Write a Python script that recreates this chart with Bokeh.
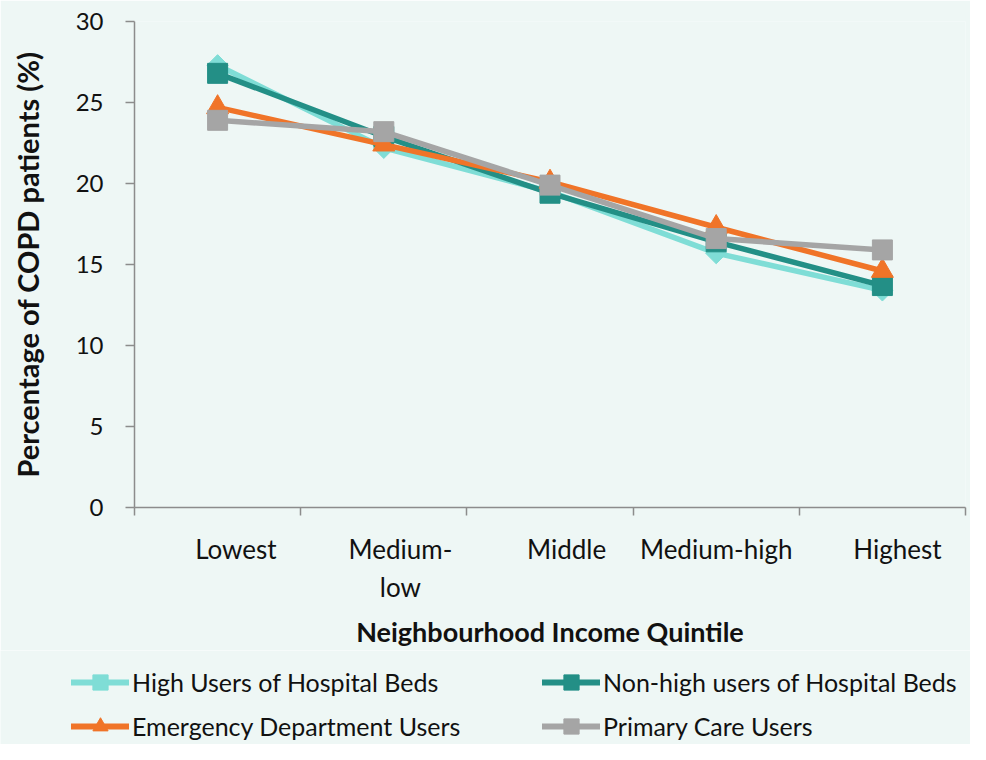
from bokeh.plotting import figure
from bokeh.models import FixedTicker, Legend, LegendItem, Range1d
from bokeh.layouts import column
from bokeh.embed import file_html
from bokeh.resources import INLINE
import math

categories = ["Lowest", "Medium-low", "Middle", "Medium-high", "Highest"]
category_labels = ["Lowest", "Medium-\nlow", "Middle", "Medium-high", "Highest"]
series_names = ["High Users of Hospital Beds", "Non-high users of Hospital Beds",
                "Emergency Department Users", "Primary Care Users"]
high_users_beds = [27.3, 22.2, 19.5, 15.7, 13.4]
nonhigh_users_beds = [26.8, 22.9, 19.4, 16.4, 13.7]
ed_users = [24.7, 22.4, 20.1, 17.3, 14.6]
primary_care_users = [23.9, 23.2, 19.9, 16.6, 15.9]
y_ticks = [0, 5, 10, 15, 20, 25, 30]

# horizontal nudge of each category label (in category widths), as in the original
label_nudge = [0.11, 0.1, 0.1, 0.0, 0.09]

BG = "#EEF7F5"
FONT = "Lato"
AXC = "#8C8C8C"
TXT = "#111111"

W = 970
H_MAIN = 650
H_LEG = 94

x = list(range(1, len(categories) + 1))
label_pos = [xi + d for xi, d in zip(x, label_nudge)]

p = figure(width=W, height=H_MAIN, x_range=(0.5, len(categories) + 0.5), y_range=(0, 30),
           output_backend="svg", toolbar_location=None,
           min_border_left=134, min_border_right=5, min_border_top=21,
           min_border_bottom=H_MAIN - 513)
p.frame_align = False
p.background_fill_color = BG
p.border_fill_color = BG
p.outline_line_color = None
p.xgrid.visible = False
p.ygrid.visible = False

for ax in (p.xaxis[0], p.yaxis[0]):
    ax.axis_line_color = AXC
    ax.axis_line_width = 1.5
    ax.major_label_text_font = FONT
    ax.major_label_text_color = TXT
    ax.axis_label_text_font = FONT
    ax.axis_label_text_font_style = "bold"
    ax.axis_label_text_color = TXT

p.xaxis.ticker = FixedTicker(ticks=label_pos,
                             minor_ticks=[i + 0.5 for i in range(len(categories) + 1)])
p.xaxis.major_label_overrides = {pos: lab for pos, lab in zip(label_pos, category_labels)}
p.xaxis.major_label_text_font_size = "26px"
p.xaxis.major_tick_out = 0
p.xaxis.major_tick_in = 0
p.xaxis.minor_tick_out = 8
p.xaxis.minor_tick_in = 0
p.xaxis.minor_tick_line_color = AXC
p.xaxis.minor_tick_line_width = 1.5
p.xaxis.major_label_standoff = 17
p.xaxis.axis_label = "Neighbourhood Income Quintile"
p.xaxis.axis_label_text_font_size = "27px"
p.xaxis.axis_label_standoff = 9

p.yaxis.ticker = FixedTicker(ticks=y_ticks, minor_ticks=[])
p.yaxis.major_label_text_font_size = "24px"
p.yaxis.major_tick_out = 9
p.yaxis.major_tick_in = 0
p.yaxis.major_tick_line_color = AXC
p.yaxis.major_tick_line_width = 1.5
p.yaxis.major_label_standoff = 22
p.yaxis.axis_label = "Percentage of COPD patients (%)"
p.yaxis.axis_label_text_font_size = "29px"
p.yaxis.axis_label_standoff = 28

series = [
    (high_users_beds, "#7FDDD6", "square", 15, math.pi / 4),
    (nonhigh_users_beds, "#238F86", "square", 20, 0),
    (ed_users, "#F07428", "triangle", 22, 0),
    (primary_care_users, "#A5A5A5", "square", 20, 0),
]

# legend strip below the chart; its ranges keep the key renderers out of view
lg = figure(width=W, height=H_LEG, x_axis_type=None, y_axis_type=None,
            x_range=Range1d(100, 101), y_range=Range1d(100, 101),
            output_backend="svg", toolbar_location=None,
            min_border=0, min_border_left=0, min_border_right=0,
            min_border_top=0, min_border_bottom=0)
lg.frame_align = False
lg.background_fill_color = BG
lg.border_fill_color = BG
lg.outline_line_color = None

items = []
for name, (vals, col, mk, sz, ang) in zip(series_names, series):
    p.line(x, vals, line_color=col, line_width=5.5)
    p.scatter(x, vals, marker=mk, size=sz, angle=ang, fill_color=col, line_color=col)
    kl = lg.line(x, vals, line_color=col, line_width=6, line_cap="round")
    km = lg.scatter(x, vals, marker=mk, size=sz, angle=ang, fill_color=col, line_color=col)
    items.append(LegendItem(label=name, renderers=[kl, km]))

legend = Legend(items=items, location=(71, -1), orientation="horizontal", nrows=2,
                glyph_width=58, glyph_height=38, label_standoff=3, label_height=38,
                label_width=404, spacing=6, padding=0, margin=0,
                label_text_font=FONT, label_text_font_size="25px", label_text_color=TXT,
                border_line_color=None, background_fill_alpha=0)
lg.add_layout(legend)

layout = column(p, lg, spacing=0)
open("out.html", "w").write(file_html(layout, INLINE))
